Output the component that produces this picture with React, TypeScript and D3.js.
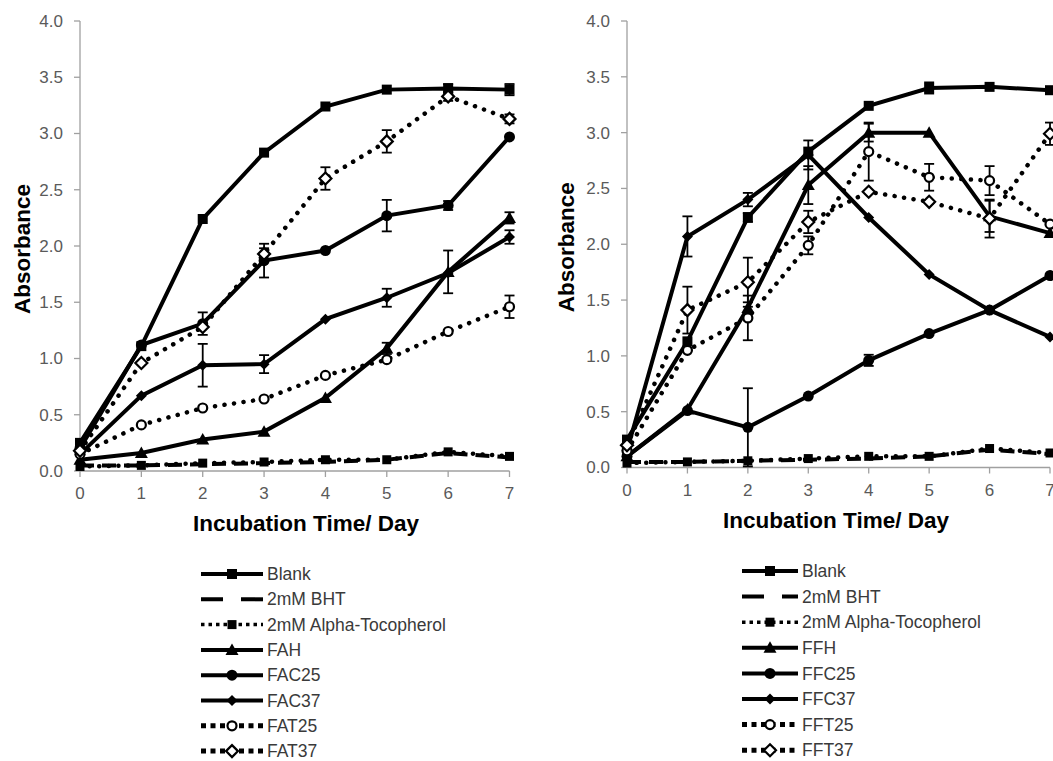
import React from "react";
import * as d3 from "d3";

// days on the x axis and y ticks
const days = [0, 1, 2, 3, 4, 5, 6, 7];
const yTicks = [0, 0.5, 1, 1.5, 2, 2.5, 3, 3.5, 4];

const faNames = ["Blank", "2mM BHT", "2mM Alpha-Tocopherol", "FAH", "FAC25", "FAC37", "FAT25", "FAT37"];
const ffNames = ["Blank", "2mM BHT", "2mM Alpha-Tocopherol", "FFH", "FFC25", "FFC37", "FFT25", "FFT37"];

// left panel (FA)
const faBlank = [0.25, 1.11, 2.24, 2.83, 3.24, 3.39, 3.4, 3.39];
const faBlankErr = [0, 0.02, 0.02, 0.02, 0.02, 0.02, 0.04, 0.05];
const faBht = [0.05, 0.05, 0.06, 0.07, 0.08, 0.1, 0.16, 0.12];
const faBhtErr = [0, 0, 0, 0, 0, 0, 0, 0];
const faAlpha = [0.04, 0.05, 0.07, 0.08, 0.1, 0.1, 0.17, 0.13];
const faAlphaErr = [0, 0, 0, 0, 0, 0, 0, 0];
const fah = [0.1, 0.16, 0.28, 0.35, 0.65, 1.09, 1.77, 2.25];
const fahErr = [0, 0, 0.02, 0.02, 0.03, 0.05, 0.19, 0.05];
const fac25 = [0.2, 1.12, 1.31, 1.87, 1.96, 2.27, 2.36, 2.97];
const fac25Err = [0, 0.02, 0.1, 0.15, 0.03, 0.14, 0.04, 0.03];
const fac37 = [0.15, 0.67, 0.94, 0.95, 1.35, 1.54, 1.76, 2.08];
const fac37Err = [0, 0.02, 0.19, 0.08, 0.02, 0.08, 0.03, 0.06];
const fat25 = [0.15, 0.41, 0.56, 0.64, 0.85, 0.99, 1.24, 1.46];
const fat25Err = [0, 0.02, 0.02, 0.02, 0.02, 0.03, 0.02, 0.1];
const fat37 = [0.18, 0.96, 1.28, 1.93, 2.6, 2.93, 3.33, 3.13];
const fat37Err = [0, 0.03, 0.03, 0.05, 0.1, 0.1, 0.04, 0.04];

// right panel (FF)
const ffBlank = [0.25, 1.13, 2.24, 2.83, 3.24, 3.4, 3.41, 3.38];
const ffBlankErr = [0, 0.02, 0.04, 0.02, 0.02, 0.05, 0.02, 0.03];
const ffBht = [0.05, 0.05, 0.06, 0.07, 0.08, 0.1, 0.16, 0.12];
const ffBhtErr = [0, 0, 0, 0, 0, 0, 0, 0];
const ffAlpha = [0.04, 0.05, 0.06, 0.08, 0.1, 0.1, 0.17, 0.13];
const ffAlphaErr = [0, 0, 0, 0, 0, 0, 0, 0];
const ffh = [0.1, 0.52, 1.43, 2.53, 3.0, 3.0, 2.25, 2.1];
const ffhErr = [0, 0.02, 0.05, 0.17, 0.08, 0.02, 0.14, 0.03];
const ffc25 = [0.1, 0.51, 0.36, 0.64, 0.96, 1.2, 1.41, 1.72];
const ffc25Err = [0, 0.02, 0.35, 0.03, 0.05, 0.02, 0.03, 0.02];
const ffc37 = [0.15, 2.07, 2.4, 2.8, 2.24, 1.73, 1.41, 1.17];
const ffc37Err = [0, 0.18, 0.06, 0.13, 0.02, 0.02, 0.02, 0.02];
const fft25 = [0.15, 1.05, 1.34, 1.99, 2.83, 2.6, 2.57, 2.18];
const fft25Err = [0, 0.03, 0.2, 0.08, 0.26, 0.12, 0.13, 0.03];
const fft37 = [0.2, 1.41, 1.66, 2.2, 2.47, 2.38, 2.23, 2.99];
const fft37Err = [0, 0.21, 0.22, 0.1, 0.03, 0.02, 0.17, 0.1];

const faValues = [faBlank, faBht, faAlpha, fah, fac25, fac37, fat25, fat37];
const faErrors = [faBlankErr, faBhtErr, faAlphaErr, fahErr, fac25Err, fac37Err, fat25Err, fat37Err];
const ffValues = [ffBlank, ffBht, ffAlpha, ffh, ffc25, ffc37, fft25, fft37];
const ffErrors = [ffBlankErr, ffBhtErr, ffAlphaErr, ffhErr, ffc25Err, ffc37Err, fft25Err, fft37Err];

// line style + marker per series slot
const styles = [
  { line: "solid", marker: "square" },
  { line: "dash", marker: "none" },
  { line: "dotSmall", marker: "smallSquare" },
  { line: "solid", marker: "triangle" },
  { line: "solid", marker: "circle" },
  { line: "solid", marker: "diamond" },
  { line: "dot", marker: "openCircle" },
  { line: "dot", marker: "openDiamond" },
];

const FONT = "Arial, 'Liberation Sans', sans-serif";

function Marker({ kind, x, y }: { kind: string; x: number; y: number }) {
  if (kind === "square") return <rect x={x - 5} y={y - 5} width={10} height={10} fill="#000" />;
  if (kind === "smallSquare") return <rect x={x - 4.5} y={y - 4.5} width={9} height={9} fill="#000" />;
  if (kind === "circle") return <circle cx={x} cy={y} r={5.5} fill="#000" />;
  if (kind === "triangle")
    return <path d={`M${x},${y - 6.5}L${x + 6.5},${y + 5}L${x - 6.5},${y + 5}Z`} fill="#000" />;
  if (kind === "diamond")
    return <path d={`M${x},${y - 5.5}L${x + 5.5},${y}L${x},${y + 5.5}L${x - 5.5},${y}Z`} fill="#000" />;
  if (kind === "openCircle")
    return <circle cx={x} cy={y} r={4.5} fill="#fff" stroke="#000" strokeWidth={2.2} />;
  if (kind === "openDiamond")
    return (
      <path
        d={`M${x},${y - 6}L${x + 6},${y}L${x},${y + 6}L${x - 6},${y}Z`}
        fill="#fff"
        stroke="#000"
        strokeWidth={2.2}
      />
    );
  return null;
}

function lineProps(kind: string, legend = false) {
  if (kind === "dash") return { strokeWidth: 4, strokeDasharray: legend ? "22 18" : "14 8" };
  if (kind === "dotSmall")
    return legend
      ? { strokeWidth: 3.5, strokeDasharray: "3.5 4" }
      : { strokeWidth: 4.5, strokeDasharray: "0.1 9.5", strokeLinecap: "round" as const };
  if (kind === "dot")
    return legend
      ? { strokeWidth: 5, strokeDasharray: "5 4.5" }
      : { strokeWidth: 4.5, strokeDasharray: "0.1 9.5", strokeLinecap: "round" as const };
  return { strokeWidth: 4 };
}

type PanelProps = {
  names: string[];
  values: number[][];
  errors: number[][];
  xr: [number, number];
  yr: [number, number];
  yTitleX: number;
  xTitleX: number;
  legend: { x1: number; x2: number; tx: number; y0: number; step: number };
};

function Panel({ names, values, errors, xr, yr, yTitleX, xTitleX, legend }: PanelProps) {
  const x = d3.scaleLinear().domain([0, 7]).range(xr);
  const y = d3.scaleLinear().domain([0, 4]).range(yr);
  const fmt = d3.format(".1f");
  const line = d3
    .line<number>()
    .x((_, i) => x(days[i]))
    .y((d) => y(d));
  const axisColor = "#a0a0a0";
  const y0 = y(0);

  return (
    <g>
      {/* y axis */}
      <line x1={xr[0]} x2={xr[0]} y1={y(0)} y2={y(4)} stroke={axisColor} strokeWidth={1.3} />
      {yTicks.map((t) => (
        <g key={t}>
          <line x1={xr[0] - 6} x2={xr[0]} y1={y(t)} y2={y(t)} stroke={axisColor} strokeWidth={1.3} />
          <text
            x={xr[0] - 17}
            y={y(t)}
            dy="0.35em"
            textAnchor="end"
            fontFamily={FONT}
            fontSize={17}
            fill="#5a5a5a"
          >
            {fmt(t)}
          </text>
        </g>
      ))}
      {/* x axis */}
      <line x1={xr[0]} x2={xr[1]} y1={y0} y2={y0} stroke={axisColor} strokeWidth={1.3} />
      {days.map((d) => (
        <g key={d}>
          <line x1={x(d)} x2={x(d)} y1={y0} y2={y0 + 6} stroke={axisColor} strokeWidth={1.3} />
          <text x={x(d)} y={y0 + 28} textAnchor="middle" fontFamily={FONT} fontSize={17} fill="#5a5a5a">
            {d}
          </text>
        </g>
      ))}
      <text
        transform={`translate(${yTitleX},${(y(0) + y(4)) / 2 + 3}) rotate(-90)`}
        textAnchor="middle"
        fontFamily={FONT}
        fontSize={22.5}
        fontWeight="bold"
        fill="#000"
      >
        Absorbance
      </text>
      <text
        x={xTitleX}
        y={y0 + 60}
        textAnchor="middle"
        fontFamily={FONT}
        fontSize={22.5}
        fontWeight="bold"
        fill="#000"
      >
        Incubation Time/ Day
      </text>

      {/* series */}
      {values.map((vals, si) => {
        const st = styles[si];
        return (
          <g key={names[si]}>
            <path d={line(vals) || ""} fill="none" stroke="#000" {...lineProps(st.line)} />
            {vals.map((v, i) =>
              errors[si][i] > 0.035 ? (
                <g key={"e" + i} stroke="#000" strokeWidth={1.8}>
                  <line x1={x(days[i])} x2={x(days[i])} y1={y(v - errors[si][i])} y2={y(v + errors[si][i])} />
                  <line
                    x1={x(days[i]) - 5}
                    x2={x(days[i]) + 5}
                    y1={y(v + errors[si][i])}
                    y2={y(v + errors[si][i])}
                  />
                  <line
                    x1={x(days[i]) - 5}
                    x2={x(days[i]) + 5}
                    y1={y(v - errors[si][i])}
                    y2={y(v - errors[si][i])}
                  />
                </g>
              ) : null
            )}
            {vals.map((v, i) => (
              <Marker key={"m" + i} kind={st.marker} x={x(days[i])} y={y(v)} />
            ))}
          </g>
        );
      })}

      {/* legend */}
      {names.map((n, i) => {
        const ly = legend.y0 + i * legend.step;
        const st = styles[i];
        return (
          <g key={"lg" + n}>
            <line x1={legend.x1} x2={legend.x2} y1={ly} y2={ly} stroke="#000" {...lineProps(st.line, true)} />
            <Marker
              kind={st.marker === "smallSquare" ? "smallSquare" : st.marker}
              x={(legend.x1 + legend.x2) / 2}
              y={ly}
            />
            <text x={legend.tx} y={ly} dy="0.35em" fontFamily={FONT} fontSize={17.5} fill="#3a3a3a">
              {n}
            </text>
          </g>
        );
      })}
    </g>
  );
}

export default function App() {
  return (
    <svg
      width={1053}
      height={761}
      style={{ position: "absolute", left: 0, top: 0, background: "#fff" }}
    >
      <rect width={1053} height={761} fill="#fff" />
      <Panel
        names={faNames}
        values={faValues}
        errors={faErrors}
        xr={[80, 509.5]}
        yr={[471, 21]}
        yTitleX={30}
        xTitleX={306}
        legend={{ x1: 201, x2: 263, tx: 267, y0: 574, step: 25.3 }}
      />
      <Panel
        names={ffNames}
        values={ffValues}
        errors={ffErrors}
        xr={[627, 1050]}
        yr={[467.5, 21]}
        yTitleX={574}
        xTitleX={836}
        legend={{ x1: 742, x2: 798, tx: 802, y0: 571, step: 25.6 }}
      />
    </svg>
  );
}
